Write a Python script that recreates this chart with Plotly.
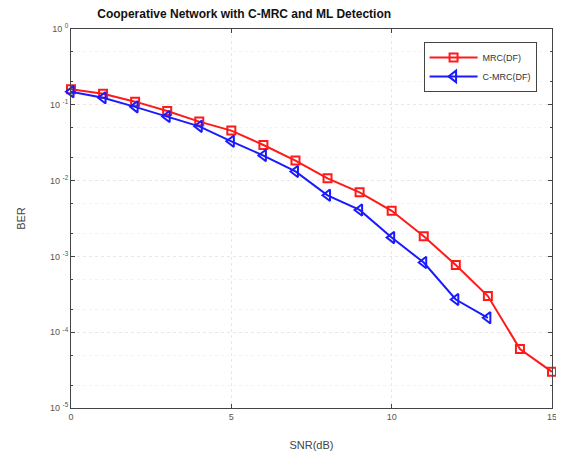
import plotly.graph_objects as go

snr = [0, 1, 2, 3, 4, 5, 6, 7, 8, 9, 10, 11, 12, 13, 14, 15]
ber_mrc = [0.160, 0.140, 0.110, 0.083, 0.060, 0.0457, 0.0295, 0.0184, 0.0107,
           0.0070, 0.0040, 0.00185, 0.00077, 0.00030, 0.000060, 0.000030]
snr_cmrc = [0, 1, 2, 3, 4, 5, 6, 7, 8, 9, 10, 11, 12, 13]
ber_cmrc = [0.149, 0.124, 0.094, 0.070, 0.052, 0.033, 0.0214, 0.0132, 0.0064,
            0.0041, 0.00177, 0.00083, 0.00027, 0.000155]

ytick_vals = [1, 0.1, 0.01, 0.001, 0.0001, 0.00001]
ytick_text = ["10 <sup>0</sup>", "10 <sup>-1</sup>", "10 <sup>-2</sup>",
              "10 <sup>-3</sup>", "10 <sup>-4</sup>", "10 <sup>-5</sup>"]
xtick_vals = [0, 5, 10, 15]

fig = go.Figure()
fig.add_trace(go.Scatter(
    x=snr, y=ber_mrc, mode="lines+markers", name="MRC(DF)", cliponaxis=False,
    line=dict(color="#ff1a1a", width=2),
    marker=dict(symbol="square-open", size=8, color="#ff1a1a", line=dict(width=2)),
))
fig.add_trace(go.Scatter(
    x=snr_cmrc, y=ber_cmrc, mode="lines+markers", name="C-MRC(DF)", cliponaxis=False,
    line=dict(color="#1a1aff", width=2),
    marker=dict(symbol="triangle-left-open", size=10, color="#1a1aff", line=dict(width=2)),
))

# page has an 8px body margin, so the figure is sized to fit inside it
fig.update_layout(
    width=548, height=443,
    margin=dict(l=63, r=4, t=21, b=43),
    paper_bgcolor="white", plot_bgcolor="white",
    font=dict(family="Liberation Sans, Arial, sans-serif", color="#444"),
    title=dict(text="<b>Cooperative Network with C-MRC and ML Detection</b>",
               x=0.431, xanchor="center", y=0.986, yanchor="middle",
               font=dict(size=12, color="#111")),
    showlegend=True,
    legend=dict(x=0.733, y=0.966, xanchor="left", yanchor="top",
                bgcolor="white", bordercolor="#444", borderwidth=1,
                itemwidth=48,
                font=dict(size=9, color="#333"), tracegroupgap=0),
    xaxis=dict(
        range=[0, 15], tickvals=xtick_vals, ticks="inside", ticklen=4,
        automargin=False, ticklabeloverflow="allow",
        showline=True, linecolor="#444", linewidth=1, mirror="ticks",
        showgrid=True, gridcolor="#e8e8e8", griddash="dot", zeroline=False,
        tickfont=dict(size=9, color="#555"),
        title=dict(text="SNR(dB)", font=dict(size=11, color="#444"), standoff=23),
    ),
    yaxis=dict(
        type="log", range=[-5, 0], tickvals=ytick_vals, ticktext=ytick_text,
        ticks="inside", ticklen=4, automargin=False,
        showline=True, linecolor="#444", linewidth=1, mirror="ticks",
        showgrid=True, gridcolor="#e8e8e8", griddash="dot", zeroline=False,
        minor=dict(ticks="inside", ticklen=2, tickcolor="#444", showgrid=True,
                   gridcolor="#f3f3f3", griddash="dot"),
        tickfont=dict(size=9, color="#555"),
        title=dict(text="BER", font=dict(size=11, color="#444"), standoff=22),
    ),
)

fig.write_html("out.html")
